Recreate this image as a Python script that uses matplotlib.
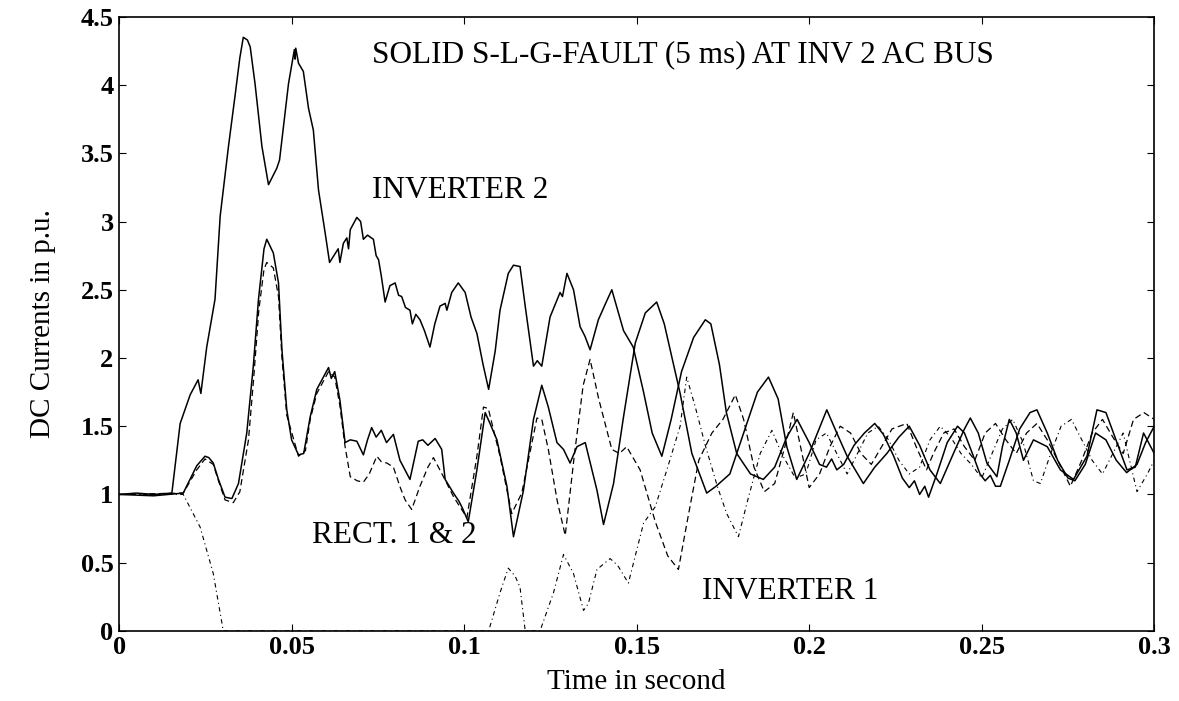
import numpy as np
import matplotlib
matplotlib.use("Agg")
import matplotlib.pyplot as plt

# DC currents after a solid single-line-to-ground fault at INV 2 AC bus
# values (time in s, current in p.u.)

inv2_t = [0.000, 0.005, 0.010, 0.0153, 0.0177, 0.0206, 0.0229, 0.0237, 0.0254, 0.0278,
          0.0293, 0.0317, 0.0336, 0.0350, 0.0360, 0.0372, 0.0380, 0.0394, 0.0414, 0.0433,
          0.0445, 0.0457, 0.0465, 0.0472, 0.0491, 0.0508, 0.0510, 0.0512, 0.0520, 0.0534,
          0.0549, 0.0563, 0.0578, 0.0597, 0.0610, 0.0625, 0.0635, 0.0640, 0.0650, 0.0660,
          0.0665, 0.0670, 0.0689, 0.0700, 0.0708, 0.0720, 0.0737, 0.0745, 0.0752, 0.0760,
          0.0771, 0.0785, 0.0800, 0.0810, 0.0819, 0.0830, 0.0843, 0.0850, 0.0860, 0.0872,
          0.0885, 0.0901, 0.0915, 0.0930, 0.0945, 0.0950, 0.0964, 0.0983, 0.1003, 0.1020,
          0.1037, 0.1055, 0.1071, 0.1090, 0.1104, 0.1128, 0.1143, 0.1162, 0.1177, 0.1201,
          0.1212, 0.1225, 0.1249, 0.1278, 0.1285, 0.1298, 0.1317, 0.1336, 0.1350, 0.1365,
          0.1389, 0.1410, 0.1428, 0.1445, 0.1462, 0.1490, 0.1520, 0.1545, 0.1573, 0.1600,
          0.1630, 0.1665, 0.1699, 0.1715, 0.1740, 0.1760, 0.1790, 0.1830, 0.1867, 0.1900,
          0.1935, 0.1965, 0.2000, 0.2030, 0.2050, 0.2065, 0.2080, 0.2100, 0.2130, 0.2160,
          0.2190, 0.2215, 0.2245, 0.2270, 0.2290, 0.2305, 0.2320, 0.2335, 0.2346, 0.2370,
          0.2400, 0.2430, 0.2450, 0.2470, 0.2495, 0.2510, 0.2525, 0.2540, 0.2554, 0.2580,
          0.2610, 0.2640, 0.2660, 0.2690, 0.2720, 0.2750, 0.2770, 0.2800, 0.2830, 0.2860,
          0.2890, 0.2920, 0.2950, 0.2975, 0.3000]
inv2_y = [1.00, 1.01, 1.00, 1.01, 1.52, 1.73, 1.84, 1.74, 2.08, 2.43,
          3.04, 3.55, 3.92, 4.20, 4.35, 4.33, 4.28, 4.01, 3.55, 3.27,
          3.33, 3.39, 3.45, 3.60, 4.01, 4.26, 4.19, 4.27, 4.16, 4.10,
          3.83, 3.67, 3.23, 2.92, 2.70, 2.76, 2.80, 2.70, 2.84, 2.88,
          2.80, 2.94, 3.03, 3.00, 2.87, 2.90, 2.87, 2.75, 2.72, 2.60,
          2.41, 2.53, 2.55, 2.46, 2.45, 2.37, 2.35, 2.25, 2.32, 2.28,
          2.20, 2.08, 2.25, 2.38, 2.40, 2.35, 2.48, 2.55, 2.48, 2.30,
          2.18, 1.95, 1.77, 2.05, 2.35, 2.62, 2.68, 2.67, 2.38, 1.94,
          1.98, 1.94, 2.30, 2.48, 2.45, 2.62, 2.50, 2.23, 2.16, 2.06,
          2.28, 2.40, 2.50, 2.35, 2.20, 2.08, 1.75, 1.45, 1.28, 1.55,
          1.90, 2.15, 2.28, 2.25, 1.95, 1.60, 1.30, 1.15, 1.11, 1.20,
          1.42, 1.55, 1.38, 1.22, 1.20, 1.26, 1.18, 1.22, 1.36, 1.45,
          1.52, 1.44, 1.28, 1.12, 1.05, 1.10, 1.00, 1.06, 0.98, 1.15,
          1.38, 1.50, 1.45, 1.32, 1.15, 1.10, 1.14, 1.06, 1.06, 1.25,
          1.48, 1.60, 1.62, 1.45, 1.25, 1.12, 1.10, 1.22, 1.45, 1.40,
          1.25, 1.16, 1.22, 1.38, 1.50]

rect1_t = [0.000, 0.010, 0.0186, 0.0225, 0.0249, 0.0260, 0.0273, 0.0288, 0.0307, 0.0327,
           0.0346, 0.0370, 0.0389, 0.0404, 0.0420, 0.0428, 0.0447, 0.0462, 0.0472, 0.0486,
           0.0500, 0.0520, 0.0535, 0.0554, 0.0573, 0.0590, 0.0607, 0.0615, 0.0625, 0.0640,
           0.0655, 0.0670, 0.0689, 0.0708, 0.0720, 0.0732, 0.0745, 0.0760, 0.0775, 0.0795,
           0.0814, 0.0843, 0.0867, 0.0880, 0.0895, 0.0916, 0.0935, 0.0945, 0.0969, 0.0985,
           0.0995, 0.1012, 0.1037, 0.1061, 0.1075, 0.1095, 0.1124, 0.1143, 0.1172, 0.1201,
           0.1225, 0.1244, 0.1269, 0.1288, 0.1307, 0.1327, 0.1351, 0.1385, 0.1404, 0.1433,
           0.1462, 0.1496, 0.1525, 0.1558, 0.1580, 0.1626, 0.1660, 0.1703, 0.1730, 0.1770,
           0.1810, 0.1850, 0.1882, 0.1910, 0.1935, 0.1964, 0.2000, 0.2051, 0.2080, 0.2110,
           0.2157, 0.2190, 0.2225, 0.2260, 0.2290, 0.2320, 0.2350, 0.2380, 0.2418, 0.2450,
           0.2467, 0.2490, 0.2515, 0.2544, 0.2560, 0.2580, 0.2600, 0.2621, 0.2650, 0.2690,
           0.2728, 0.2766, 0.2805, 0.2834, 0.2860, 0.2892, 0.2921, 0.2945, 0.2969, 0.3000]
rect1_y = [1.00, 0.99, 1.01, 1.21, 1.28, 1.27, 1.23, 1.11, 0.98, 0.97,
           1.08, 1.45, 1.94, 2.43, 2.80, 2.87, 2.77, 2.55, 2.06, 1.62,
           1.40, 1.29, 1.30, 1.57, 1.77, 1.85, 1.93, 1.85, 1.90, 1.69,
           1.38, 1.40, 1.39, 1.29, 1.40, 1.49, 1.42, 1.47, 1.38, 1.44,
           1.25, 1.11, 1.39, 1.40, 1.36, 1.41, 1.33, 1.11, 1.01, 0.95,
           0.90, 0.80, 1.18, 1.60, 1.52, 1.40, 1.06, 0.69, 1.03, 1.55,
           1.80, 1.64, 1.38, 1.33, 1.23, 1.35, 1.38, 1.03, 0.78, 1.08,
           1.57, 2.11, 2.33, 2.41, 2.25, 1.74, 1.30, 1.01, 1.06, 1.15,
           1.45, 1.75, 1.86, 1.70, 1.35, 1.11, 1.30, 1.62, 1.45, 1.28,
           1.08, 1.20, 1.30, 1.42, 1.50, 1.36, 1.18, 1.08, 1.30, 1.48,
           1.56, 1.45, 1.23, 1.13, 1.35, 1.55, 1.45, 1.25, 1.40, 1.35,
           1.18, 1.11, 1.28, 1.62, 1.60, 1.38, 1.18, 1.20, 1.45, 1.30]

rect2_t = [0.000, 0.0186, 0.0225, 0.0249, 0.0273, 0.0288, 0.0307, 0.0331, 0.0350, 0.0375,
           0.0390, 0.0405, 0.0420, 0.0428, 0.0447, 0.0462, 0.0472, 0.0486, 0.0520, 0.0540,
           0.0554, 0.0573, 0.0607, 0.0625, 0.0640, 0.0655, 0.0670, 0.0690, 0.0708, 0.0725,
           0.0747, 0.0760, 0.0776, 0.0795, 0.0815, 0.0829, 0.0848, 0.0872, 0.0895, 0.0911,
           0.0940, 0.0970, 0.1008, 0.1037, 0.1056, 0.1070, 0.1104, 0.1138, 0.1167, 0.1211,
           0.1225, 0.1244, 0.1270, 0.1293, 0.1320, 0.1345, 0.1365, 0.1390, 0.1428, 0.1450,
           0.1471, 0.1510, 0.1554, 0.1590, 0.1621, 0.1650, 0.1680, 0.1718, 0.1750, 0.1786,
           0.1810, 0.1840, 0.1870, 0.1900, 0.1935, 0.1954, 0.1975, 0.2000, 0.2030, 0.2060,
           0.2090, 0.2120, 0.2150, 0.2180, 0.2210, 0.2240, 0.2283, 0.2310, 0.2340, 0.2360,
           0.2390, 0.2420, 0.2450, 0.2480, 0.2510, 0.2540, 0.2570, 0.2600, 0.2630, 0.2660,
           0.2690, 0.2720, 0.2757, 0.2790, 0.2820, 0.2850, 0.2880, 0.2910, 0.2940, 0.2970,
           0.3000]
rect2_y = [1.00, 1.01, 1.18, 1.26, 1.22, 1.10, 0.96, 0.94, 1.02, 1.40,
           1.85, 2.35, 2.65, 2.70, 2.66, 2.45, 2.00, 1.58, 1.28, 1.32,
           1.55, 1.74, 1.90, 1.86, 1.65, 1.35, 1.13, 1.10, 1.09, 1.15,
           1.28, 1.24, 1.23, 1.20, 1.05, 0.96, 0.89, 1.06, 1.20, 1.27,
           1.13, 0.98, 0.83, 1.28, 1.64, 1.63, 1.28, 0.86, 1.01, 1.56,
           1.55, 1.33, 0.95, 0.70, 1.30, 1.80, 1.99, 1.70, 1.33, 1.30,
           1.35, 1.18, 0.80, 0.55, 0.45, 0.85, 1.25, 1.45, 1.55, 1.73,
           1.55, 1.20, 1.02, 1.08, 1.40, 1.60, 1.35, 1.05, 1.15, 1.35,
           1.50, 1.45, 1.30, 1.22, 1.35, 1.48, 1.52, 1.35, 1.18, 1.30,
           1.45, 1.48, 1.35, 1.25, 1.45, 1.52, 1.40, 1.30, 1.45, 1.52,
           1.40, 1.25, 1.06, 1.25, 1.45, 1.55, 1.42, 1.30, 1.55, 1.60,
           1.55]

inv1_t = [0.000, 0.0186, 0.0235, 0.0273, 0.0302, 0.1071, 0.1104, 0.1128, 0.1148, 0.1162,
          0.1177, 0.1220, 0.1259, 0.1288, 0.1317, 0.1346, 0.1360, 0.1385, 0.1423, 0.1445,
          0.1476, 0.1520, 0.1554, 0.1590, 0.1626, 0.1645, 0.1670, 0.1700, 0.1735, 0.1761,
          0.1795, 0.1820, 0.1858, 0.1892, 0.1920, 0.1960, 0.1990, 0.2020, 0.2050, 0.2080,
          0.2110, 0.2140, 0.2170, 0.2200, 0.2230, 0.2260, 0.2290, 0.2320, 0.2350, 0.2380,
          0.2410, 0.2440, 0.2470, 0.2500, 0.2530, 0.2560, 0.2590, 0.2620, 0.2650, 0.2670,
          0.2700, 0.2730, 0.2760, 0.2790, 0.2820, 0.2850, 0.2880, 0.2910, 0.2950, 0.2980,
          0.3000]
inv1_y = [1.00, 1.00, 0.76, 0.42, 0.00, 0.00, 0.28, 0.46, 0.40, 0.32,
          0.00, 0.00, 0.28, 0.56, 0.42, 0.15, 0.20, 0.45, 0.53, 0.48,
          0.35, 0.79, 0.91, 1.20, 1.50, 1.86, 1.64, 1.35, 1.05, 0.86,
          0.69, 0.94, 1.30, 1.47, 1.30, 1.12, 1.15, 1.40, 1.45, 1.30,
          1.15, 1.30, 1.45, 1.50, 1.40, 1.25, 1.15, 1.20, 1.40, 1.50,
          1.42, 1.30, 1.22, 1.12, 1.30, 1.48, 1.55, 1.38, 1.10, 1.08,
          1.30, 1.50, 1.55, 1.40, 1.25, 1.15, 1.30, 1.45, 1.02, 1.15,
          1.25]

x_ticks = [0, 0.05, 0.1, 0.15, 0.2, 0.25, 0.3]
x_labels = ["0", "0.05", "0.1", "0.15", "0.2", "0.25", "0.3"]
y_ticks = [0, 0.5, 1, 1.5, 2, 2.5, 3, 3.5, 4, 4.5]
y_labels = ["0", "0.5", "1", "1.5", "2", "2.5", "3", "3.5", "4", "4.5"]

plt.rcParams['font.family'] = ['Liberation Serif', 'DejaVu Serif']

fig = plt.figure(figsize=(11.79, 7.01), dpi=100)
ax = fig.add_axes([0.101, 0.100, 0.878, 0.876])

ax.plot(inv2_t, inv2_y, color='black', lw=1.1)
ax.plot(rect1_t, rect1_y, color='black', lw=1.1)
ax.plot(rect2_t, rect2_y, color='black', lw=0.9, dashes=(5, 3))
ax.plot(inv1_t, inv1_y, color='black', lw=0.8, dashes=(4, 3, 1, 3))

ax.set_xlim(0, 0.3)
ax.set_ylim(0, 4.5)
ax.set_xticks(x_ticks)
ax.set_xticklabels(x_labels)
ax.set_yticks(y_ticks)
ax.set_yticklabels(y_labels)
ax.tick_params(direction='in', length=5, width=0.8, top=True, right=True,
               labelsize=19, pad=4)
for lab in ax.get_xticklabels() + ax.get_yticklabels():
    lab.set_fontweight('bold')
for s in ax.spines.values():
    s.set_linewidth(1.2)

ax.set_xlabel("Time in second", fontsize=21, labelpad=7)
ax.set_ylabel("DC Currents in p.u.", fontsize=21, labelpad=18)

ax.text(0.0733, 4.17, "SOLID S-L-G-FAULT (5 ms) AT INV 2 AC BUS", fontsize=22.5, va='baseline')
ax.text(0.0733, 3.23, "INVERTER 2", fontsize=22.5, va='center')
ax.text(0.0559, 0.70, "RECT. 1 & 2", fontsize=22.5, va='center')
ax.text(0.169, 0.29, "INVERTER 1", fontsize=22.5, va='center')

fig.savefig("out.png", dpi=100)
